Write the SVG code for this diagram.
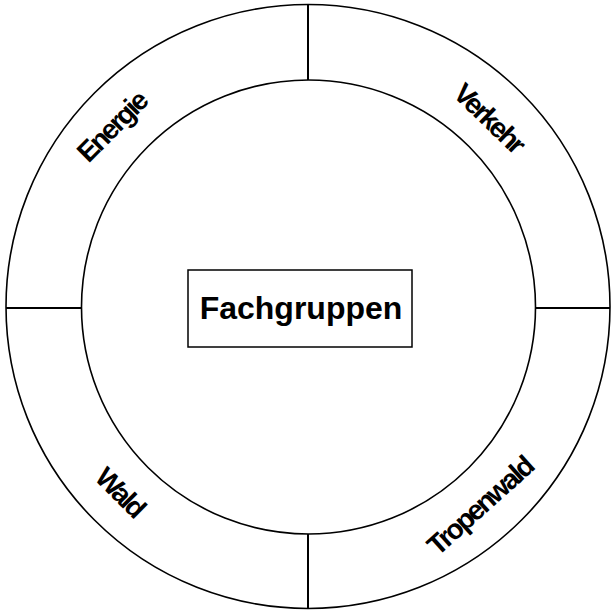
<svg xmlns="http://www.w3.org/2000/svg" width="611" height="611" viewBox="0 0 611 611">
<style>
.ring{fill:none;stroke:#000;stroke-width:1.6}
.div{stroke:#000;stroke-width:2}
.lbl{font-family:"Liberation Sans",Arial,sans-serif;font-weight:bold;font-size:28px;letter-spacing:-2.5px;fill:#000}
.ctr{font-family:"Liberation Sans",Arial,sans-serif;font-weight:bold;font-size:32px;fill:#000}
</style>
<rect width="611" height="611" fill="#fff"/>
<g id="ring">
<circle class="ring" cx="308" cy="306.5" r="302"/>
<circle class="ring" cx="308.5" cy="307" r="227"/>
</g>
<g id="connectors">
<line class="div" x1="308" y1="4.5" x2="308" y2="80"/>
<line class="div" x1="6" y1="308" x2="82" y2="308"/>
<line class="div" x1="536" y1="308" x2="610" y2="308"/>
<line class="div" x1="308" y1="534" x2="308" y2="608.5"/>
</g>
<g id="center">
<rect x="188" y="270" width="224" height="77" fill="#fff" stroke="#000" stroke-width="1.5"/>
<text class="ctr" x="301" y="319" text-anchor="middle">Fachgruppen</text>
</g>
<g id="energie"><text class="lbl" text-anchor="middle" dominant-baseline="central" transform="translate(112,127) rotate(-45)">Energie</text></g>
<g id="verkehr"><text class="lbl" text-anchor="middle" dominant-baseline="central" transform="translate(489,118) rotate(44)">Verkehr</text></g>
<g id="tropenwald"><text class="lbl" text-anchor="middle" dominant-baseline="central" transform="translate(480,506) rotate(-42)">Tropenwald</text></g>
<g id="wald"><text class="lbl" text-anchor="middle" dominant-baseline="central" transform="translate(120,492) rotate(45)">Wald</text></g>
</svg>
